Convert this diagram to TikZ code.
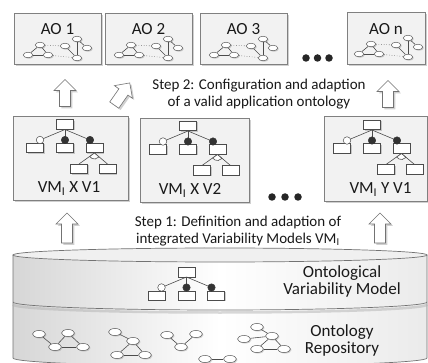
\documentclass[tikz,border=0pt]{standalone}
\usepackage{fontspec}
\setmainfont{Carlito}
\usetikzlibrary{shapes.geometric,shadows}

\tikzset{
 shd/.style={drop shadow={shadow xshift=1.8pt,shadow yshift=-1.8pt,opacity=0.3,fill=black!60}},
 shds/.style={drop shadow={shadow xshift=1pt,shadow yshift=-1pt,opacity=0.3,fill=black!60}},
 aobox/.style={draw=black!50, fill=black!5, line width=0.7pt, shd},
 lbl/.style={font=\fontsize{17}{18}\selectfont, text=black!90, inner sep=0pt},
 steptext/.style={font=\fontsize{15}{17}\selectfont, text=black!90, align=center, inner sep=1pt},
 cyltext/.style={font=\fontsize{17}{17}\selectfont, text=black!90, align=center, inner sep=0pt},
 mrect/.style={draw=black!70, fill=white, line width=0.5pt, minimum width=17pt, minimum height=9.5pt, inner sep=0pt, shds},
 ocirc/.style={circle, draw=black!70, fill=white, minimum size=7.5pt, inner sep=0pt, line width=0.5pt},
 fcirc/.style={circle, draw=black!80, fill=black!80, minimum size=7.5pt, inner sep=0pt},
 fline/.style={draw=black!70, line width=0.6pt},
 oell/.style={ellipse, draw=black!65, fill=white, minimum width=9.5pt, minimum height=5.5pt, inner sep=0pt, line width=0.5pt, shds},
 rell/.style={oell, minimum width=13pt, minimum height=7pt},
 dotline/.style={draw=black!60, dotted, line width=0.6pt},
 arrowline/.style={draw=black!55, fill=white, line width=0.6pt, line join=miter, shd},
 bigdot/.style={circle, fill=black!85, minimum size=7.5pt, inner sep=0pt},
 cyl/.style={draw=black!55, line width=0.7pt},
 pics/blockarrow/.style={code={
   \draw[arrowline] (-5.5,#1) -- (-5.5,{-#1+11}) -- (-11,{-#1+11}) -- (0,-#1)
      -- (11,{-#1+11}) -- (5.5,{-#1+11}) -- (5.5,#1) -- cycle;
 }},
 pics/fmtree/.style={code={
   \node[mrect] (-r) at (0,0) {};
   \node[mrect] (-a) at (-30,23.5) {};
   \node[mrect] (-b) at (0,23.5) {};
   \node[mrect] (-c) at (29.5,23.5) {};
   \coordinate (-ca) at (-25,15.5);
   \coordinate (-cb) at (0,15.5);
   \coordinate (-cc) at (25,15.5);
   \draw[fline] (-r.south) -- (-ca);
   \draw[fline] (-r.south) -- (-cb);
   \draw[fline] (-r.south) -- (-cc);
   \node[ocirc] (-oa) at (-ca) {};
   \node[fcirc] (-ob) at (-cb) {};
   \node[fcirc] (-oc) at (-cc) {};
 }},
 pics/fmtreex/.style={code={
   \node[mrect] (-r) at (0,0) {};
   \node[mrect] (-a) at (-30,23.5) {};
   \node[mrect] (-b) at (0,23.5) {};
   \node[mrect] (-d) at (14,44.5) {};
   \node[mrect] (-e) at (42.5,44.5) {};
   \node[mrect] (-c) at (29.5,23.5) {};
   \coordinate (-ca) at (-25,15.5);
   \coordinate (-cb) at (0,15.5);
   \coordinate (-cc) at (25,15.5);
   \draw[fline] (-r.south) -- (-ca);
   \draw[fline] (-r.south) -- (-cb);
   \draw[fline] (-r.south) -- (-cc);
   \node[ocirc] (-oa) at (-ca) {};
   \node[fcirc] (-ob) at (-cb) {};
   \node[fcirc] (-oc) at (-cc) {};
   \draw[fline] (-c.south) -- (-d.north);
   \draw[fline] (-c.south) -- (-e.north);
   \draw[fline, fill=white] (-c.south) -- ++(216.6:6pt) arc[start angle=216.6, end angle=318.5, radius=6pt] -- cycle;
 }},
 pics/aograph/.style={code={
   \node[oell] (-n1) at (26,32) {};
   \node[oell] (-n2) at (14,42) {};
   \node[oell] (-n3) at (34,42) {};
   \node[oell] (-n4) at (51,33) {};
   \node[oell] (-n5) at (63,26) {};
   \node[oell] (-n6) at (73,35) {};
   \node[oell] (-n7) at (63,45) {};
   \draw[fline] (-n1) -- (-n2);
   \draw[fline] (-n1) -- (-n3);
   \draw[fline] (-n2) -- (-n3);
   \draw[fline] (-n4) -- (-n7);
   \draw[fline] (-n5) -- (-n7);
   \draw[fline] (-n5) -- (-n6);
   \draw[dotline] (-n1) -- (-n4);
   \draw[dotline] (-n3) -- (-n7);
 }},
}

\begin{document}
\begin{tikzpicture}[x=1pt,y=-1pt]
\useasboundingbox (0,0) rectangle (428,363);
\clip (0,0) rectangle (428,363);
\fill[white] (0,0) rectangle (428,363);

% ---------- AO boxes ----------
\node[aobox, minimum width=87pt, minimum height=51pt, inner sep=0pt] (ao1) at (57.5,38.5) {};
\node[aobox, minimum width=87pt, minimum height=51pt, inner sep=0pt] (ao2) at (148.5,38.5) {};
\node[aobox, minimum width=87pt, minimum height=51pt, inner sep=0pt] (ao3) at (243.5,38.5) {};
\node[aobox, minimum width=78pt, minimum height=52pt, inner sep=0pt] (aon) at (386,38) {};
\node[lbl, anchor=base] (ao1t) at (57.5,35) {AO 1};
\node[lbl, anchor=base] (ao2t) at (148.5,35) {AO 2};
\node[lbl, anchor=base] (ao3t) at (243.5,35) {AO 3};
\node[lbl, anchor=base] (aont) at (386,34.5) {AO n};
\pic (g1) at (14,13) {aograph};
\pic (g2) at (105,13) {aograph};
\pic (g3) at (200,13) {aograph};
\pic (gn) at (345,12) {aograph};

\node[bigdot] (d1) at (306,58) {};
\node[bigdot] (d2) at (317.5,58) {};
\node[bigdot] (d3) at (329,58) {};

% ---------- Step 2 ----------
\pic (a1) at (65,93) {blockarrow=13.5};
\pic[rotate=-35] (a2) at (122,94) {blockarrow=13.5};
\pic (a3) at (388,94) {blockarrow=13.5};
\node[steptext] (s2) at (259,94) {Step 2: Configuration and adaption\\of a valid application ontology};

% ---------- VM boxes ----------
\node[aobox, minimum width=115pt, minimum height=84pt, inner sep=0pt] (vm1) at (70.5,158) {};
\node[aobox, minimum width=109pt, minimum height=84pt, inner sep=0pt] (vm2) at (194.5,160) {};
\node[aobox, minimum width=103pt, minimum height=85pt, inner sep=0pt] (vm3) at (375.5,158.5) {};
\pic (t1) at (65,124.5) {fmtreex};
\pic (t2) at (188,126) {fmtreex};
\pic (t3) at (372,125) {fmtreex};
\node[lbl, anchor=base] (vm1t) at (69,193) {VM\textsubscript{I} X V1};
\node[lbl, anchor=base] (vm2t) at (190,195) {VM\textsubscript{I} X V2};
\node[lbl, anchor=base] (vm3t) at (380.5,194) {VM\textsubscript{I} Y V1};

\node[bigdot] (e1) at (272,197) {};
\node[bigdot] (e2) at (285,197) {};
\node[bigdot] (e3) at (298,197) {};

% ---------- Step 1 ----------
\pic (b1) at (67,228) {blockarrow=15};
\pic (b2) at (380,228) {blockarrow=15};
\draw[draw=black!20, fill=white, line width=0.5pt] (204,248) -- (204,229) -- (199,229) -- (209,219) -- (219,229) -- (214,229) -- (214,248);
\node[steptext, fill=white] (s1) at (238,231) {Step 1: Definition and adaption of\\integrated Variability Models VM\textsubscript{I}};

% ---------- Cylinder ----------
\path[left color=black!16, right color=black!8, middle color=white]
  (13,255) -- (13,358) arc[start angle=180,end angle=360,x radius=207pt,y radius=8pt]
  -- (427,255) arc[start angle=0,end angle=-180,x radius=207pt,y radius=7pt] -- cycle;
\draw[cyl] (13,255) -- (13,358) arc[start angle=180,end angle=360,x radius=207pt,y radius=8pt] -- (427,255);
\draw[cyl, fill=black!6] (220,255) ellipse[x radius=207pt, y radius=7pt];
\draw[black!30, line width=2.5pt, opacity=0.5] (13,304.5) arc[start angle=180,end angle=360,x radius=207pt,y radius=8pt];
\draw[cyl] (13,302) arc[start angle=180,end angle=360,x radius=207pt,y radius=8pt];

\pic (ovm) at (186.5,272) {fmtree};
\node[cyltext] (ovmt) at (342,281) {Ontological\\Variability Model};
\node[cyltext] (rept) at (342,340) {Ontology\\Repository};

% repository graphs
\node[rell] (p1a) at (39,334) {};
\node[rell] (p1b) at (68,333) {};
\node[rell] (p1c) at (55,347) {};
\node[rell] (p1d) at (83,347) {};
\draw[fline] (p1a) -- (p1c);
\draw[fline] (p1b) -- (p1c);
\draw[fline] (p1c) -- (p1d);
\draw[fline] (p1b) -- (p1d);

\node[rell] (p2a) at (115,332) {};
\node[rell] (p2b) at (133,341) {};
\node[rell] (p2c) at (117,355) {};
\node[rell] (p2d) at (145,355) {};
\draw[fline] (p2a) -- (p2b);
\draw[fline] (p2b) -- (p2c);
\draw[fline] (p2b) -- (p2d);
\draw[fline] (p2c) -- (p2d);

\node[rell] (p3a) at (167,335) {};
\node[rell] (p3b) at (196,334) {};
\node[rell] (p3c) at (181,347) {};
\node[rell] (p3d) at (205,359) {};
\node[rell] (p3e) at (230,359) {};
\draw[fline] (p3a) -- (p3c);
\draw[fline] (p3b) -- (p3c);
\draw[fline] (p3d) -- (p3e);

\node[rell] (p4a) at (244,339) {};
\node[rell] (p4b) at (257,327) {};
\node[rell] (p4c) at (272,336) {};
\node[rell] (p4d) at (257,349) {};
\node[rell] (p4e) at (284,349) {};
\draw[fline] (p4a) -- (p4c);
\draw[fline] (p4b) -- (p4c);
\draw[fline] (p4c) -- (p4d);
\draw[fline] (p4d) -- (p4e);
\draw[fline] (p4c) -- (p4e);
\end{tikzpicture}
\end{document}
